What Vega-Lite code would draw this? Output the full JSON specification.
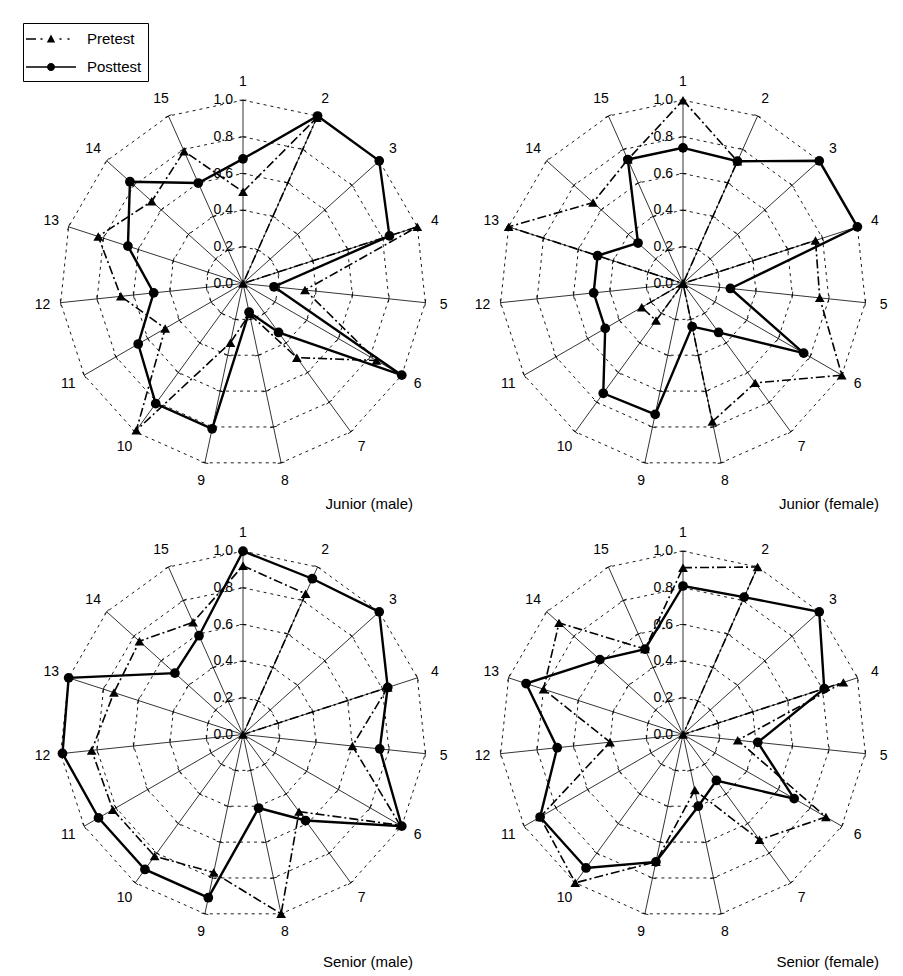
{
  "$schema": "https://vega.github.io/schema/vega-lite/v6.json",
  "autosize": {"type": "pad"},
  "padding": {"left": 22, "top": 22, "right": 0, "bottom": 0},
  "background": "white",
  "config": {"view": {"stroke": null}, "font": "Liberation Sans", "title": {"font": "Liberation Sans", "fontSize": 15, "fontWeight": "normal", "color": "black"}},
  "datasets": {
    "grid": [
      {"i": 1, "lv": [0.2, 0.4, 0.6, 0.8, 1.0]}, {"i": 2, "lv": [0.2, 0.4, 0.6, 0.8, 1.0]}, {"i": 3, "lv": [0.2, 0.4, 0.6, 0.8, 1.0]},
      {"i": 4, "lv": [0.2, 0.4, 0.6, 0.8, 1.0]}, {"i": 5, "lv": [0.2, 0.4, 0.6, 0.8, 1.0]}, {"i": 6, "lv": [0.2, 0.4, 0.6, 0.8, 1.0]},
      {"i": 7, "lv": [0.2, 0.4, 0.6, 0.8, 1.0]}, {"i": 8, "lv": [0.2, 0.4, 0.6, 0.8, 1.0]}, {"i": 9, "lv": [0.2, 0.4, 0.6, 0.8, 1.0]},
      {"i": 10, "lv": [0.2, 0.4, 0.6, 0.8, 1.0]}, {"i": 11, "lv": [0.2, 0.4, 0.6, 0.8, 1.0]}, {"i": 12, "lv": [0.2, 0.4, 0.6, 0.8, 1.0]},
      {"i": 13, "lv": [0.2, 0.4, 0.6, 0.8, 1.0]}, {"i": 14, "lv": [0.2, 0.4, 0.6, 0.8, 1.0]}, {"i": 15, "lv": [0.2, 0.4, 0.6, 0.8, 1.0]}
    ],
    "levels": [{"lv": 0}, {"lv": 0.2}, {"lv": 0.4}, {"lv": 0.6}, {"lv": 0.8}, {"lv": 1.0}],
    "d": [
      {"p": "JM", "t": "Posttest", "i": 1, "v": 0.68}, {"p": "JM", "t": "Posttest", "i": 2, "v": 1.0}, {"p": "JM", "t": "Posttest", "i": 3, "v": 1.0},
      {"p": "JM", "t": "Posttest", "i": 4, "v": 0.84}, {"p": "JM", "t": "Posttest", "i": 5, "v": 0.17}, {"p": "JM", "t": "Posttest", "i": 6, "v": 1.0},
      {"p": "JM", "t": "Posttest", "i": 7, "v": 0.33}, {"p": "JM", "t": "Posttest", "i": 8, "v": 0.16}, {"p": "JM", "t": "Posttest", "i": 9, "v": 0.81},
      {"p": "JM", "t": "Posttest", "i": 10, "v": 0.81}, {"p": "JM", "t": "Posttest", "i": 11, "v": 0.66}, {"p": "JM", "t": "Posttest", "i": 12, "v": 0.49},
      {"p": "JM", "t": "Posttest", "i": 13, "v": 0.66}, {"p": "JM", "t": "Posttest", "i": 14, "v": 0.83}, {"p": "JM", "t": "Posttest", "i": 15, "v": 0.60},
      {"p": "JM", "t": "Pretest", "i": 1, "v": 0.50}, {"p": "JM", "t": "Pretest", "i": 2, "v": 0.99}, {"p": "JM", "t": "Pretest", "i": 3, "v": 0.0},
      {"p": "JM", "t": "Pretest", "i": 4, "v": 1.0}, {"p": "JM", "t": "Pretest", "i": 5, "v": 0.34}, {"p": "JM", "t": "Pretest", "i": 6, "v": 0.84},
      {"p": "JM", "t": "Pretest", "i": 7, "v": 0.50}, {"p": "JM", "t": "Pretest", "i": 8, "v": 0.17}, {"p": "JM", "t": "Pretest", "i": 9, "v": 0.33},
      {"p": "JM", "t": "Pretest", "i": 10, "v": 0.99}, {"p": "JM", "t": "Pretest", "i": 11, "v": 0.49}, {"p": "JM", "t": "Pretest", "i": 12, "v": 0.67},
      {"p": "JM", "t": "Pretest", "i": 13, "v": 0.83}, {"p": "JM", "t": "Pretest", "i": 14, "v": 0.67}, {"p": "JM", "t": "Pretest", "i": 15, "v": 0.79},
      {"p": "JF", "t": "Posttest", "i": 1, "v": 0.74}, {"p": "JF", "t": "Posttest", "i": 2, "v": 0.73}, {"p": "JF", "t": "Posttest", "i": 3, "v": 1.0},
      {"p": "JF", "t": "Posttest", "i": 4, "v": 1.0}, {"p": "JF", "t": "Posttest", "i": 5, "v": 0.26}, {"p": "JF", "t": "Posttest", "i": 6, "v": 0.76},
      {"p": "JF", "t": "Posttest", "i": 7, "v": 0.33}, {"p": "JF", "t": "Posttest", "i": 8, "v": 0.24}, {"p": "JF", "t": "Posttest", "i": 9, "v": 0.73},
      {"p": "JF", "t": "Posttest", "i": 10, "v": 0.74}, {"p": "JF", "t": "Posttest", "i": 11, "v": 0.49}, {"p": "JF", "t": "Posttest", "i": 12, "v": 0.49},
      {"p": "JF", "t": "Posttest", "i": 13, "v": 0.49}, {"p": "JF", "t": "Posttest", "i": 14, "v": 0.33}, {"p": "JF", "t": "Posttest", "i": 15, "v": 0.74},
      {"p": "JF", "t": "Pretest", "i": 1, "v": 1.0}, {"p": "JF", "t": "Pretest", "i": 2, "v": 0.73}, {"p": "JF", "t": "Pretest", "i": 3, "v": 0.0},
      {"p": "JF", "t": "Pretest", "i": 4, "v": 0.76}, {"p": "JF", "t": "Pretest", "i": 5, "v": 0.75}, {"p": "JF", "t": "Pretest", "i": 6, "v": 1.0},
      {"p": "JF", "t": "Pretest", "i": 7, "v": 0.67}, {"p": "JF", "t": "Pretest", "i": 8, "v": 0.77}, {"p": "JF", "t": "Pretest", "i": 9, "v": 0.0},
      {"p": "JF", "t": "Pretest", "i": 10, "v": 0.25}, {"p": "JF", "t": "Pretest", "i": 11, "v": 0.26}, {"p": "JF", "t": "Pretest", "i": 12, "v": 0.0},
      {"p": "JF", "t": "Pretest", "i": 13, "v": 1.0}, {"p": "JF", "t": "Pretest", "i": 14, "v": 0.66}, {"p": "JF", "t": "Pretest", "i": 15, "v": 0.74},
      {"p": "SM", "t": "Posttest", "i": 1, "v": 1.0}, {"p": "SM", "t": "Posttest", "i": 2, "v": 0.93}, {"p": "SM", "t": "Posttest", "i": 3, "v": 1.0},
      {"p": "SM", "t": "Posttest", "i": 4, "v": 0.83}, {"p": "SM", "t": "Posttest", "i": 5, "v": 0.75}, {"p": "SM", "t": "Posttest", "i": 6, "v": 1.0},
      {"p": "SM", "t": "Posttest", "i": 7, "v": 0.58}, {"p": "SM", "t": "Posttest", "i": 8, "v": 0.41}, {"p": "SM", "t": "Posttest", "i": 9, "v": 0.91},
      {"p": "SM", "t": "Posttest", "i": 10, "v": 0.91}, {"p": "SM", "t": "Posttest", "i": 11, "v": 0.91}, {"p": "SM", "t": "Posttest", "i": 12, "v": 0.99},
      {"p": "SM", "t": "Posttest", "i": 13, "v": 1.0}, {"p": "SM", "t": "Posttest", "i": 14, "v": 0.50}, {"p": "SM", "t": "Posttest", "i": 15, "v": 0.59},
      {"p": "SM", "t": "Pretest", "i": 1, "v": 0.92}, {"p": "SM", "t": "Pretest", "i": 2, "v": 0.84}, {"p": "SM", "t": "Pretest", "i": 3, "v": 0.0},
      {"p": "SM", "t": "Pretest", "i": 4, "v": 0.83}, {"p": "SM", "t": "Pretest", "i": 5, "v": 0.60}, {"p": "SM", "t": "Pretest", "i": 6, "v": 0.99},
      {"p": "SM", "t": "Pretest", "i": 7, "v": 0.52}, {"p": "SM", "t": "Pretest", "i": 8, "v": 1.0}, {"p": "SM", "t": "Pretest", "i": 9, "v": 0.77},
      {"p": "SM", "t": "Pretest", "i": 10, "v": 0.82}, {"p": "SM", "t": "Pretest", "i": 11, "v": 0.82}, {"p": "SM", "t": "Pretest", "i": 12, "v": 0.83},
      {"p": "SM", "t": "Pretest", "i": 13, "v": 0.74}, {"p": "SM", "t": "Pretest", "i": 14, "v": 0.76}, {"p": "SM", "t": "Pretest", "i": 15, "v": 0.67},
      {"p": "SF", "t": "Posttest", "i": 1, "v": 0.81}, {"p": "SF", "t": "Posttest", "i": 2, "v": 0.82}, {"p": "SF", "t": "Posttest", "i": 3, "v": 1.0},
      {"p": "SF", "t": "Posttest", "i": 4, "v": 0.81}, {"p": "SF", "t": "Posttest", "i": 5, "v": 0.41}, {"p": "SF", "t": "Posttest", "i": 6, "v": 0.70},
      {"p": "SF", "t": "Posttest", "i": 7, "v": 0.31}, {"p": "SF", "t": "Posttest", "i": 8, "v": 0.40}, {"p": "SF", "t": "Posttest", "i": 9, "v": 0.71},
      {"p": "SF", "t": "Posttest", "i": 10, "v": 0.90}, {"p": "SF", "t": "Posttest", "i": 11, "v": 0.90}, {"p": "SF", "t": "Posttest", "i": 12, "v": 0.69},
      {"p": "SF", "t": "Posttest", "i": 13, "v": 0.90}, {"p": "SF", "t": "Posttest", "i": 14, "v": 0.61}, {"p": "SF", "t": "Posttest", "i": 15, "v": 0.51},
      {"p": "SF", "t": "Pretest", "i": 1, "v": 0.91}, {"p": "SF", "t": "Pretest", "i": 2, "v": 1.0}, {"p": "SF", "t": "Pretest", "i": 3, "v": 0.0},
      {"p": "SF", "t": "Pretest", "i": 4, "v": 0.92}, {"p": "SF", "t": "Pretest", "i": 5, "v": 0.30}, {"p": "SF", "t": "Pretest", "i": 6, "v": 0.90},
      {"p": "SF", "t": "Pretest", "i": 7, "v": 0.71}, {"p": "SF", "t": "Pretest", "i": 8, "v": 0.31}, {"p": "SF", "t": "Pretest", "i": 9, "v": 0.71},
      {"p": "SF", "t": "Pretest", "i": 10, "v": 1.0}, {"p": "SF", "t": "Pretest", "i": 11, "v": 0.90}, {"p": "SF", "t": "Pretest", "i": 12, "v": 0.40},
      {"p": "SF", "t": "Pretest", "i": 13, "v": 0.80}, {"p": "SF", "t": "Pretest", "i": 14, "v": 0.91}, {"p": "SF", "t": "Pretest", "i": 15, "v": 0.51}
    ]
  },
  "columns": 2,
  "spacing": 0,
  "bounds": "flush",
  "concat": [
    {
      "width": 440, "height": 451,
      "title": {"text": "Junior (male)", "orient": "bottom", "anchor": "end", "offset": -12, "dx": -50},
      "layer": [
        {"data": {"name": "grid"}, "transform": [{"flatten": ["lv"]}, {"calculate": "datum.lv*sin((datum.i-1)*PI/7.5)", "as": "gx"}, {"calculate": "datum.lv*cos((datum.i-1)*PI/7.5)", "as": "gy"}],
         "mark": {"type": "line", "interpolate": "linear-closed", "stroke": "black", "strokeWidth": 0.9, "strokeDash": [3, 4]},
         "encoding": {"x": {"field": "gx", "type": "quantitative", "scale": {"domain": [-1.2, 1.2], "nice": false, "zero": false}, "axis": null}, "y": {"field": "gy", "type": "quantitative", "scale": {"domain": [-1.23, 1.23], "nice": false, "zero": false}, "axis": null}, "detail": {"field": "lv", "type": "nominal"}, "order": {"field": "i", "type": "quantitative"}}},
        {"data": {"name": "grid"}, "transform": [{"calculate": "sin((datum.i-1)*PI/7.5)", "as": "sx"}, {"calculate": "cos((datum.i-1)*PI/7.5)", "as": "sy"}, {"calculate": "0", "as": "zz"}],
         "mark": {"type": "rule", "stroke": "black", "strokeWidth": 0.8},
         "encoding": {"x": {"field": "zz", "type": "quantitative"}, "y": {"field": "zz", "type": "quantitative"}, "x2": {"field": "sx"}, "y2": {"field": "sy"}}},
        {"data": {"name": "grid"}, "transform": [{"flatten": ["lv"]}, {"calculate": "datum.lv*sin((datum.i-1)*PI/7.5)", "as": "gx"}, {"calculate": "datum.lv*cos((datum.i-1)*PI/7.5)", "as": "gy"}, {"calculate": "(datum.i-1)*24", "as": "deg"}],
         "mark": {"type": "point", "shape": "stroke", "size": 49, "stroke": "black", "strokeWidth": 0.8, "filled": false, "opacity": 1},
         "encoding": {"x": {"field": "gx", "type": "quantitative"}, "y": {"field": "gy", "type": "quantitative"}, "angle": {"field": "deg", "type": "quantitative", "scale": null}}},
        {"data": {"name": "levels"}, "transform": [{"calculate": "0", "as": "zz"}],
         "mark": {"type": "text", "align": "right", "baseline": "middle", "dx": -10, "fontSize": 14, "color": "black"},
         "encoding": {"x": {"field": "zz", "type": "quantitative"}, "y": {"field": "lv", "type": "quantitative"}, "text": {"field": "lv", "type": "quantitative", "format": ".1f"}}},
        {"data": {"name": "grid"}, "transform": [{"calculate": "1.1*sin((datum.i-1)*PI/7.5)", "as": "lx"}, {"calculate": "1.1*cos((datum.i-1)*PI/7.5)", "as": "ly"}],
         "mark": {"type": "text", "align": "center", "baseline": "middle", "fontSize": 14, "color": "black"},
         "encoding": {"x": {"field": "lx", "type": "quantitative"}, "y": {"field": "ly", "type": "quantitative"}, "text": {"field": "i", "type": "nominal"}}},
        {"data": {"name": "d"}, "transform": [{"filter": "datum.p === 'JM' && datum.t === 'Pretest'"}, {"calculate": "datum.v*sin((datum.i-1)*PI/7.5)", "as": "px"}, {"calculate": "datum.v*cos((datum.i-1)*PI/7.5)", "as": "py"}],
         "mark": {"type": "line", "interpolate": "linear-closed", "stroke": "black", "strokeWidth": 1.6, "strokeDash": [9, 3, 2, 3]},
         "encoding": {"x": {"field": "px", "type": "quantitative"}, "y": {"field": "py", "type": "quantitative"}, "order": {"field": "i", "type": "quantitative"}}},
        {"data": {"name": "d"}, "transform": [{"filter": "datum.p === 'JM' && datum.t === 'Posttest'"}, {"calculate": "datum.v*sin((datum.i-1)*PI/7.5)", "as": "px"}, {"calculate": "datum.v*cos((datum.i-1)*PI/7.5)", "as": "py"}],
         "mark": {"type": "line", "interpolate": "linear-closed", "stroke": "black", "strokeWidth": 2.4},
         "encoding": {"x": {"field": "px", "type": "quantitative"}, "y": {"field": "py", "type": "quantitative"}, "order": {"field": "i", "type": "quantitative"}}},
        {"data": {"name": "d"}, "transform": [{"filter": "datum.p === 'JM' && datum.t === 'Pretest'"}, {"calculate": "datum.v*sin((datum.i-1)*PI/7.5)", "as": "px"}, {"calculate": "datum.v*cos((datum.i-1)*PI/7.5)", "as": "py"}],
         "mark": {"type": "point", "shape": "triangle-up", "filled": true, "color": "black", "size": 95, "opacity": 1},
         "encoding": {"x": {"field": "px", "type": "quantitative"}, "y": {"field": "py", "type": "quantitative"}}},
        {"data": {"name": "d"}, "transform": [{"filter": "datum.p === 'JM' && datum.t === 'Posttest'"}, {"calculate": "datum.v*sin((datum.i-1)*PI/7.5)", "as": "px"}, {"calculate": "datum.v*cos((datum.i-1)*PI/7.5)", "as": "py"}],
         "mark": {"type": "point", "shape": "circle", "filled": true, "color": "black", "size": 95, "opacity": 1},
         "encoding": {"x": {"field": "px", "type": "quantitative"}, "y": {"field": "py", "type": "quantitative"}}},
        {"data": {"name": "d"}, "transform": [{"filter": "false"}],
         "mark": {"type": "point", "filled": true, "color": "black", "opacity": 1},
         "encoding": {"x": {"field": "v", "type": "quantitative"}, "y": {"field": "v", "type": "quantitative"},
           "shape": {"field": "t", "type": "nominal", "scale": {"domain": ["Pretest", "Posttest"], "range": ["M-2.5,-0.07H-1.5V0.07H-2.5ZM-1.05,-0.07H-0.85V0.07H-1.05ZM-0.42,0.35L0,-0.45L0.42,0.35ZM0.85,-0.07H1.05V0.07H0.85ZM1.65,-0.07H1.85V0.07H1.65Z", "M-2.5,-0.07H2.5V0.07H-2.5ZM-0.4,0A0.4,0.4,0,1,1,0.4,0A0.4,0.4,0,1,1,-0.4,0Z"]},
             "legend": {"orient": "none", "legendX": 0, "legendY": -35, "title": null, "strokeColor": "black", "padding": 6, "symbolSize": 400, "symbolOffset": 12, "labelOffset": 26, "rowPadding": 10, "labelFont": "Liberation Sans", "labelFontSize": 15, "labelColor": "black", "symbolFillColor": "black", "symbolStrokeColor": "black", "symbolStrokeWidth": 0, "symbolOpacity": 1}}}}
      ]
    },
    {
      "width": 440, "height": 451,
      "title": {"text": "Junior (female)", "orient": "bottom", "anchor": "end", "offset": -12, "dx": -24},
      "layer": [
        {"data": {"name": "grid"}, "transform": [{"flatten": ["lv"]}, {"calculate": "datum.lv*sin((datum.i-1)*PI/7.5)", "as": "gx"}, {"calculate": "datum.lv*cos((datum.i-1)*PI/7.5)", "as": "gy"}],
         "mark": {"type": "line", "interpolate": "linear-closed", "stroke": "black", "strokeWidth": 0.9, "strokeDash": [3, 4]},
         "encoding": {"x": {"field": "gx", "type": "quantitative", "scale": {"domain": [-1.2, 1.2], "nice": false, "zero": false}, "axis": null}, "y": {"field": "gy", "type": "quantitative", "scale": {"domain": [-1.23, 1.23], "nice": false, "zero": false}, "axis": null}, "detail": {"field": "lv", "type": "nominal"}, "order": {"field": "i", "type": "quantitative"}}},
        {"data": {"name": "grid"}, "transform": [{"calculate": "sin((datum.i-1)*PI/7.5)", "as": "sx"}, {"calculate": "cos((datum.i-1)*PI/7.5)", "as": "sy"}, {"calculate": "0", "as": "zz"}],
         "mark": {"type": "rule", "stroke": "black", "strokeWidth": 0.8},
         "encoding": {"x": {"field": "zz", "type": "quantitative"}, "y": {"field": "zz", "type": "quantitative"}, "x2": {"field": "sx"}, "y2": {"field": "sy"}}},
        {"data": {"name": "grid"}, "transform": [{"flatten": ["lv"]}, {"calculate": "datum.lv*sin((datum.i-1)*PI/7.5)", "as": "gx"}, {"calculate": "datum.lv*cos((datum.i-1)*PI/7.5)", "as": "gy"}, {"calculate": "(datum.i-1)*24", "as": "deg"}],
         "mark": {"type": "point", "shape": "stroke", "size": 49, "stroke": "black", "strokeWidth": 0.8, "filled": false, "opacity": 1},
         "encoding": {"x": {"field": "gx", "type": "quantitative"}, "y": {"field": "gy", "type": "quantitative"}, "angle": {"field": "deg", "type": "quantitative", "scale": null}}},
        {"data": {"name": "levels"}, "transform": [{"calculate": "0", "as": "zz"}],
         "mark": {"type": "text", "align": "right", "baseline": "middle", "dx": -10, "fontSize": 14, "color": "black"},
         "encoding": {"x": {"field": "zz", "type": "quantitative"}, "y": {"field": "lv", "type": "quantitative"}, "text": {"field": "lv", "type": "quantitative", "format": ".1f"}}},
        {"data": {"name": "grid"}, "transform": [{"calculate": "1.1*sin((datum.i-1)*PI/7.5)", "as": "lx"}, {"calculate": "1.1*cos((datum.i-1)*PI/7.5)", "as": "ly"}],
         "mark": {"type": "text", "align": "center", "baseline": "middle", "fontSize": 14, "color": "black"},
         "encoding": {"x": {"field": "lx", "type": "quantitative"}, "y": {"field": "ly", "type": "quantitative"}, "text": {"field": "i", "type": "nominal"}}},
        {"data": {"name": "d"}, "transform": [{"filter": "datum.p === 'JF' && datum.t === 'Pretest'"}, {"calculate": "datum.v*sin((datum.i-1)*PI/7.5)", "as": "px"}, {"calculate": "datum.v*cos((datum.i-1)*PI/7.5)", "as": "py"}],
         "mark": {"type": "line", "interpolate": "linear-closed", "stroke": "black", "strokeWidth": 1.6, "strokeDash": [9, 3, 2, 3]},
         "encoding": {"x": {"field": "px", "type": "quantitative"}, "y": {"field": "py", "type": "quantitative"}, "order": {"field": "i", "type": "quantitative"}}},
        {"data": {"name": "d"}, "transform": [{"filter": "datum.p === 'JF' && datum.t === 'Posttest'"}, {"calculate": "datum.v*sin((datum.i-1)*PI/7.5)", "as": "px"}, {"calculate": "datum.v*cos((datum.i-1)*PI/7.5)", "as": "py"}],
         "mark": {"type": "line", "interpolate": "linear-closed", "stroke": "black", "strokeWidth": 2.4},
         "encoding": {"x": {"field": "px", "type": "quantitative"}, "y": {"field": "py", "type": "quantitative"}, "order": {"field": "i", "type": "quantitative"}}},
        {"data": {"name": "d"}, "transform": [{"filter": "datum.p === 'JF' && datum.t === 'Pretest'"}, {"calculate": "datum.v*sin((datum.i-1)*PI/7.5)", "as": "px"}, {"calculate": "datum.v*cos((datum.i-1)*PI/7.5)", "as": "py"}],
         "mark": {"type": "point", "shape": "triangle-up", "filled": true, "color": "black", "size": 95, "opacity": 1},
         "encoding": {"x": {"field": "px", "type": "quantitative"}, "y": {"field": "py", "type": "quantitative"}}},
        {"data": {"name": "d"}, "transform": [{"filter": "datum.p === 'JF' && datum.t === 'Posttest'"}, {"calculate": "datum.v*sin((datum.i-1)*PI/7.5)", "as": "px"}, {"calculate": "datum.v*cos((datum.i-1)*PI/7.5)", "as": "py"}],
         "mark": {"type": "point", "shape": "circle", "filled": true, "color": "black", "size": 95, "opacity": 1},
         "encoding": {"x": {"field": "px", "type": "quantitative"}, "y": {"field": "py", "type": "quantitative"}}}
      ]
    },
    {
      "width": 440, "height": 451,
      "title": {"text": "Senior (male)", "orient": "bottom", "anchor": "end", "offset": -5, "dx": -50},
      "layer": [
        {"data": {"name": "grid"}, "transform": [{"flatten": ["lv"]}, {"calculate": "datum.lv*sin((datum.i-1)*PI/7.5)", "as": "gx"}, {"calculate": "datum.lv*cos((datum.i-1)*PI/7.5)", "as": "gy"}],
         "mark": {"type": "line", "interpolate": "linear-closed", "stroke": "black", "strokeWidth": 0.9, "strokeDash": [3, 4]},
         "encoding": {"x": {"field": "gx", "type": "quantitative", "scale": {"domain": [-1.2, 1.2], "nice": false, "zero": false}, "axis": null}, "y": {"field": "gy", "type": "quantitative", "scale": {"domain": [-1.23, 1.23], "nice": false, "zero": false}, "axis": null}, "detail": {"field": "lv", "type": "nominal"}, "order": {"field": "i", "type": "quantitative"}}},
        {"data": {"name": "grid"}, "transform": [{"calculate": "sin((datum.i-1)*PI/7.5)", "as": "sx"}, {"calculate": "cos((datum.i-1)*PI/7.5)", "as": "sy"}, {"calculate": "0", "as": "zz"}],
         "mark": {"type": "rule", "stroke": "black", "strokeWidth": 0.8},
         "encoding": {"x": {"field": "zz", "type": "quantitative"}, "y": {"field": "zz", "type": "quantitative"}, "x2": {"field": "sx"}, "y2": {"field": "sy"}}},
        {"data": {"name": "grid"}, "transform": [{"flatten": ["lv"]}, {"calculate": "datum.lv*sin((datum.i-1)*PI/7.5)", "as": "gx"}, {"calculate": "datum.lv*cos((datum.i-1)*PI/7.5)", "as": "gy"}, {"calculate": "(datum.i-1)*24", "as": "deg"}],
         "mark": {"type": "point", "shape": "stroke", "size": 49, "stroke": "black", "strokeWidth": 0.8, "filled": false, "opacity": 1},
         "encoding": {"x": {"field": "gx", "type": "quantitative"}, "y": {"field": "gy", "type": "quantitative"}, "angle": {"field": "deg", "type": "quantitative", "scale": null}}},
        {"data": {"name": "levels"}, "transform": [{"calculate": "0", "as": "zz"}],
         "mark": {"type": "text", "align": "right", "baseline": "middle", "dx": -10, "fontSize": 14, "color": "black"},
         "encoding": {"x": {"field": "zz", "type": "quantitative"}, "y": {"field": "lv", "type": "quantitative"}, "text": {"field": "lv", "type": "quantitative", "format": ".1f"}}},
        {"data": {"name": "grid"}, "transform": [{"calculate": "1.1*sin((datum.i-1)*PI/7.5)", "as": "lx"}, {"calculate": "1.1*cos((datum.i-1)*PI/7.5)", "as": "ly"}],
         "mark": {"type": "text", "align": "center", "baseline": "middle", "fontSize": 14, "color": "black"},
         "encoding": {"x": {"field": "lx", "type": "quantitative"}, "y": {"field": "ly", "type": "quantitative"}, "text": {"field": "i", "type": "nominal"}}},
        {"data": {"name": "d"}, "transform": [{"filter": "datum.p === 'SM' && datum.t === 'Pretest'"}, {"calculate": "datum.v*sin((datum.i-1)*PI/7.5)", "as": "px"}, {"calculate": "datum.v*cos((datum.i-1)*PI/7.5)", "as": "py"}],
         "mark": {"type": "line", "interpolate": "linear-closed", "stroke": "black", "strokeWidth": 1.6, "strokeDash": [9, 3, 2, 3]},
         "encoding": {"x": {"field": "px", "type": "quantitative"}, "y": {"field": "py", "type": "quantitative"}, "order": {"field": "i", "type": "quantitative"}}},
        {"data": {"name": "d"}, "transform": [{"filter": "datum.p === 'SM' && datum.t === 'Posttest'"}, {"calculate": "datum.v*sin((datum.i-1)*PI/7.5)", "as": "px"}, {"calculate": "datum.v*cos((datum.i-1)*PI/7.5)", "as": "py"}],
         "mark": {"type": "line", "interpolate": "linear-closed", "stroke": "black", "strokeWidth": 2.4},
         "encoding": {"x": {"field": "px", "type": "quantitative"}, "y": {"field": "py", "type": "quantitative"}, "order": {"field": "i", "type": "quantitative"}}},
        {"data": {"name": "d"}, "transform": [{"filter": "datum.p === 'SM' && datum.t === 'Pretest'"}, {"calculate": "datum.v*sin((datum.i-1)*PI/7.5)", "as": "px"}, {"calculate": "datum.v*cos((datum.i-1)*PI/7.5)", "as": "py"}],
         "mark": {"type": "point", "shape": "triangle-up", "filled": true, "color": "black", "size": 95, "opacity": 1},
         "encoding": {"x": {"field": "px", "type": "quantitative"}, "y": {"field": "py", "type": "quantitative"}}},
        {"data": {"name": "d"}, "transform": [{"filter": "datum.p === 'SM' && datum.t === 'Posttest'"}, {"calculate": "datum.v*sin((datum.i-1)*PI/7.5)", "as": "px"}, {"calculate": "datum.v*cos((datum.i-1)*PI/7.5)", "as": "py"}],
         "mark": {"type": "point", "shape": "circle", "filled": true, "color": "black", "size": 95, "opacity": 1},
         "encoding": {"x": {"field": "px", "type": "quantitative"}, "y": {"field": "py", "type": "quantitative"}}}
      ]
    },
    {
      "width": 440, "height": 451,
      "title": {"text": "Senior (female)", "orient": "bottom", "anchor": "end", "offset": -5, "dx": -24},
      "layer": [
        {"data": {"name": "grid"}, "transform": [{"flatten": ["lv"]}, {"calculate": "datum.lv*sin((datum.i-1)*PI/7.5)", "as": "gx"}, {"calculate": "datum.lv*cos((datum.i-1)*PI/7.5)", "as": "gy"}],
         "mark": {"type": "line", "interpolate": "linear-closed", "stroke": "black", "strokeWidth": 0.9, "strokeDash": [3, 4]},
         "encoding": {"x": {"field": "gx", "type": "quantitative", "scale": {"domain": [-1.2, 1.2], "nice": false, "zero": false}, "axis": null}, "y": {"field": "gy", "type": "quantitative", "scale": {"domain": [-1.23, 1.23], "nice": false, "zero": false}, "axis": null}, "detail": {"field": "lv", "type": "nominal"}, "order": {"field": "i", "type": "quantitative"}}},
        {"data": {"name": "grid"}, "transform": [{"calculate": "sin((datum.i-1)*PI/7.5)", "as": "sx"}, {"calculate": "cos((datum.i-1)*PI/7.5)", "as": "sy"}, {"calculate": "0", "as": "zz"}],
         "mark": {"type": "rule", "stroke": "black", "strokeWidth": 0.8},
         "encoding": {"x": {"field": "zz", "type": "quantitative"}, "y": {"field": "zz", "type": "quantitative"}, "x2": {"field": "sx"}, "y2": {"field": "sy"}}},
        {"data": {"name": "grid"}, "transform": [{"flatten": ["lv"]}, {"calculate": "datum.lv*sin((datum.i-1)*PI/7.5)", "as": "gx"}, {"calculate": "datum.lv*cos((datum.i-1)*PI/7.5)", "as": "gy"}, {"calculate": "(datum.i-1)*24", "as": "deg"}],
         "mark": {"type": "point", "shape": "stroke", "size": 49, "stroke": "black", "strokeWidth": 0.8, "filled": false, "opacity": 1},
         "encoding": {"x": {"field": "gx", "type": "quantitative"}, "y": {"field": "gy", "type": "quantitative"}, "angle": {"field": "deg", "type": "quantitative", "scale": null}}},
        {"data": {"name": "levels"}, "transform": [{"calculate": "0", "as": "zz"}],
         "mark": {"type": "text", "align": "right", "baseline": "middle", "dx": -10, "fontSize": 14, "color": "black"},
         "encoding": {"x": {"field": "zz", "type": "quantitative"}, "y": {"field": "lv", "type": "quantitative"}, "text": {"field": "lv", "type": "quantitative", "format": ".1f"}}},
        {"data": {"name": "grid"}, "transform": [{"calculate": "1.1*sin((datum.i-1)*PI/7.5)", "as": "lx"}, {"calculate": "1.1*cos((datum.i-1)*PI/7.5)", "as": "ly"}],
         "mark": {"type": "text", "align": "center", "baseline": "middle", "fontSize": 14, "color": "black"},
         "encoding": {"x": {"field": "lx", "type": "quantitative"}, "y": {"field": "ly", "type": "quantitative"}, "text": {"field": "i", "type": "nominal"}}},
        {"data": {"name": "d"}, "transform": [{"filter": "datum.p === 'SF' && datum.t === 'Pretest'"}, {"calculate": "datum.v*sin((datum.i-1)*PI/7.5)", "as": "px"}, {"calculate": "datum.v*cos((datum.i-1)*PI/7.5)", "as": "py"}],
         "mark": {"type": "line", "interpolate": "linear-closed", "stroke": "black", "strokeWidth": 1.6, "strokeDash": [9, 3, 2, 3]},
         "encoding": {"x": {"field": "px", "type": "quantitative"}, "y": {"field": "py", "type": "quantitative"}, "order": {"field": "i", "type": "quantitative"}}},
        {"data": {"name": "d"}, "transform": [{"filter": "datum.p === 'SF' && datum.t === 'Posttest'"}, {"calculate": "datum.v*sin((datum.i-1)*PI/7.5)", "as": "px"}, {"calculate": "datum.v*cos((datum.i-1)*PI/7.5)", "as": "py"}],
         "mark": {"type": "line", "interpolate": "linear-closed", "stroke": "black", "strokeWidth": 2.4},
         "encoding": {"x": {"field": "px", "type": "quantitative"}, "y": {"field": "py", "type": "quantitative"}, "order": {"field": "i", "type": "quantitative"}}},
        {"data": {"name": "d"}, "transform": [{"filter": "datum.p === 'SF' && datum.t === 'Pretest'"}, {"calculate": "datum.v*sin((datum.i-1)*PI/7.5)", "as": "px"}, {"calculate": "datum.v*cos((datum.i-1)*PI/7.5)", "as": "py"}],
         "mark": {"type": "point", "shape": "triangle-up", "filled": true, "color": "black", "size": 95, "opacity": 1},
         "encoding": {"x": {"field": "px", "type": "quantitative"}, "y": {"field": "py", "type": "quantitative"}}},
        {"data": {"name": "d"}, "transform": [{"filter": "datum.p === 'SF' && datum.t === 'Posttest'"}, {"calculate": "datum.v*sin((datum.i-1)*PI/7.5)", "as": "px"}, {"calculate": "datum.v*cos((datum.i-1)*PI/7.5)", "as": "py"}],
         "mark": {"type": "point", "shape": "circle", "filled": true, "color": "black", "size": 95, "opacity": 1},
         "encoding": {"x": {"field": "px", "type": "quantitative"}, "y": {"field": "py", "type": "quantitative"}}}
      ]
    }
  ]
}
